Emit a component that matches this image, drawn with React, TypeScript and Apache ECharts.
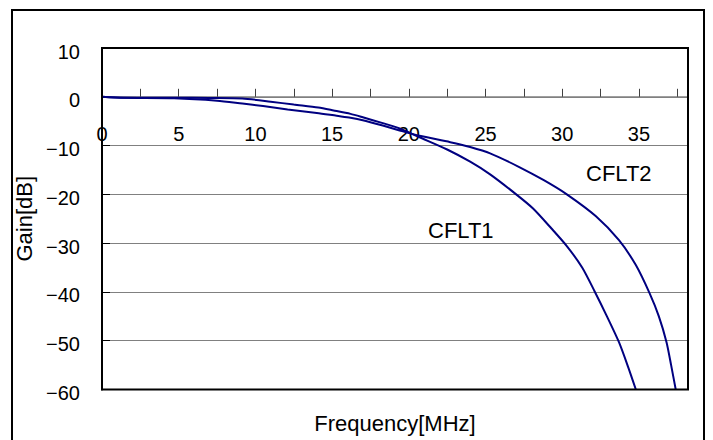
import React, { useEffect, useRef } from "react";
import * as echarts from "echarts";

const cflt1Freq = [0, 1.4, 4.7, 7, 9.15, 11, 12.5, 14.1, 15.1, 16.2, 17, 18.3, 19.4, 20.7, 22.5, 24, 25.3, 27, 28.1, 29.3, 30.3, 31.3, 32.1, 32.9, 33.7, 34.3, 34.8];
const cflt1Gain = [0, -0.2, -0.2, -0.25, -0.35, -1.0, -1.6, -2.2, -2.8, -3.5, -4.2, -5.4, -6.5, -8.3, -10.8, -13.3, -15.9, -20, -22.9, -27, -30.6, -35.0, -39.8, -44.9, -50.3, -55.4, -60];

const cflt2Freq = [0, 1.4, 4.7, 7.5, 9.15, 10.5, 12.1, 14, 15.3, 16.2, 17, 18.3, 19.4, 20.7, 22.7, 24, 25.3, 27.2, 28.8, 30.3, 32.2, 33.7, 34.8, 35.7, 36.3, 36.8, 37.1, 37.4];
const cflt2Gain = [0, -0.2, -0.3, -0.8, -1.4, -1.9, -2.6, -3.3, -3.9, -4.3, -4.8, -5.9, -6.9, -8.0, -9.3, -10.3, -11.6, -14.4, -17.1, -20.0, -24.5, -29.4, -34.5, -40.3, -45, -50.3, -55, -60];

const seriesNames = ["CFLT1", "CFLT2"];
const xTitle = "Frequency[MHz]";
const yTitle = "Gain[dB]";

const FONT = "'Liberation Sans', Arial, sans-serif";

export default function App() {
  const ref = useRef<HTMLDivElement>(null);
  useEffect(() => {
    if (!ref.current) return;
    const chart = echarts.init(ref.current, undefined, { renderer: "svg" });
    const d1 = cflt1Freq.map((f, i) => [f, cflt1Gain[i]]);
    const d2 = cflt2Freq.map((f, i) => [f, cflt2Gain[i]]);
    const gridTop = 48;
    const gridH = 341.5;
    const yMin = -60;
    const yMax = 10;
    const zeroOffset = -(gridH * (0 - yMin)) / (yMax - yMin);
    chart.setOption({
      animation: false,
      backgroundColor: "#ffffff",
      grid: {
        left: 102,
        top: gridTop,
        width: 586,
        height: gridH,
        show: true,
        borderColor: "#000000",
        borderWidth: 2,
        backgroundColor: "transparent",
        z: 5,
      },
      xAxis: {
        type: "value",
        min: 0,
        max: 38.2,
        interval: 2.5,
        offset: zeroOffset,
        axisLine: { onZero: false, lineStyle: { color: "#808080", width: 1.5 } },
        axisTick: { inside: true, length: 8, lineStyle: { color: "#404040", width: 1 } },
        axisLabel: {
          color: "#000",
          fontFamily: FONT,
          fontSize: 20,
          margin: 27,
          showMaxLabel: false,
          formatter: (v: number) => (Math.abs(v % 5) < 1e-6 ? String(v) : ""),
        },
        splitLine: { show: false },
      },
      yAxis: {
        type: "value",
        min: yMin,
        max: yMax,
        interval: 10,
        axisLine: { show: true, onZero: false, lineStyle: { color: "#000", width: 2 } },
        axisTick: { show: true, inside: true, length: 8, lineStyle: { color: "#000", width: 1 } },
        axisLabel: {
          color: "#000",
          margin: 22,
          formatter: (v: number) => `{v|${String(v).replace("-", "\u2212")}}`,
          rich: {
            v: { fontFamily: FONT, fontSize: 20, color: "#000", padding: [7, 0, 0, 0] },
          },
        },
        splitLine: { show: true, lineStyle: { color: "#808080", width: 1 } },
        name: yTitle,
        nameLocation: "middle",
        nameRotate: 90,
        nameGap: 61,
        nameTextStyle: { color: "#000", fontFamily: FONT, fontSize: 22 },
      },
      series: [
        {
          name: seriesNames[0],
          type: "line",
          data: d1,
          showSymbol: false,
          symbol: "none",
          smooth: 0.25,
          lineStyle: { color: "#000080", width: 2 },
          itemStyle: { color: "#000080" },
          z: 3,
        },
        {
          name: seriesNames[1],
          type: "line",
          data: d2,
          showSymbol: false,
          symbol: "none",
          smooth: 0.25,
          lineStyle: { color: "#000080", width: 2 },
          itemStyle: { color: "#000080" },
          z: 3,
        },
      ],
      graphic: [
        {
          type: "rect",
          shape: { x: 12, y: 10, width: 692, height: 470 },
          style: { fill: "none", stroke: "#000", lineWidth: 2 },
          silent: true,
        },
        {
          type: "text",
          x: 395,
          y: 423,
          style: {
            text: xTitle,
            fill: "#000",
            font: `22px ${FONT}`,
            textAlign: "center",
            textVerticalAlign: "middle",
          },
        },
        {
          type: "text",
          x: 586,
          y: 173,
          style: {
            text: seriesNames[1],
            fill: "#000",
            font: `22px ${FONT}`,
            textAlign: "left",
            textVerticalAlign: "middle",
          },
        },
        {
          type: "text",
          x: 428,
          y: 230,
          style: {
            text: seriesNames[0],
            fill: "#000",
            font: `22px ${FONT}`,
            textAlign: "left",
            textVerticalAlign: "middle",
          },
        },
      ],
    });
    return () => chart.dispose();
  }, []);
  return (
    <div
      ref={ref}
      style={{ position: "fixed", left: 0, top: 0, width: 713, height: 440, background: "#fff" }}
    />
  );
}
